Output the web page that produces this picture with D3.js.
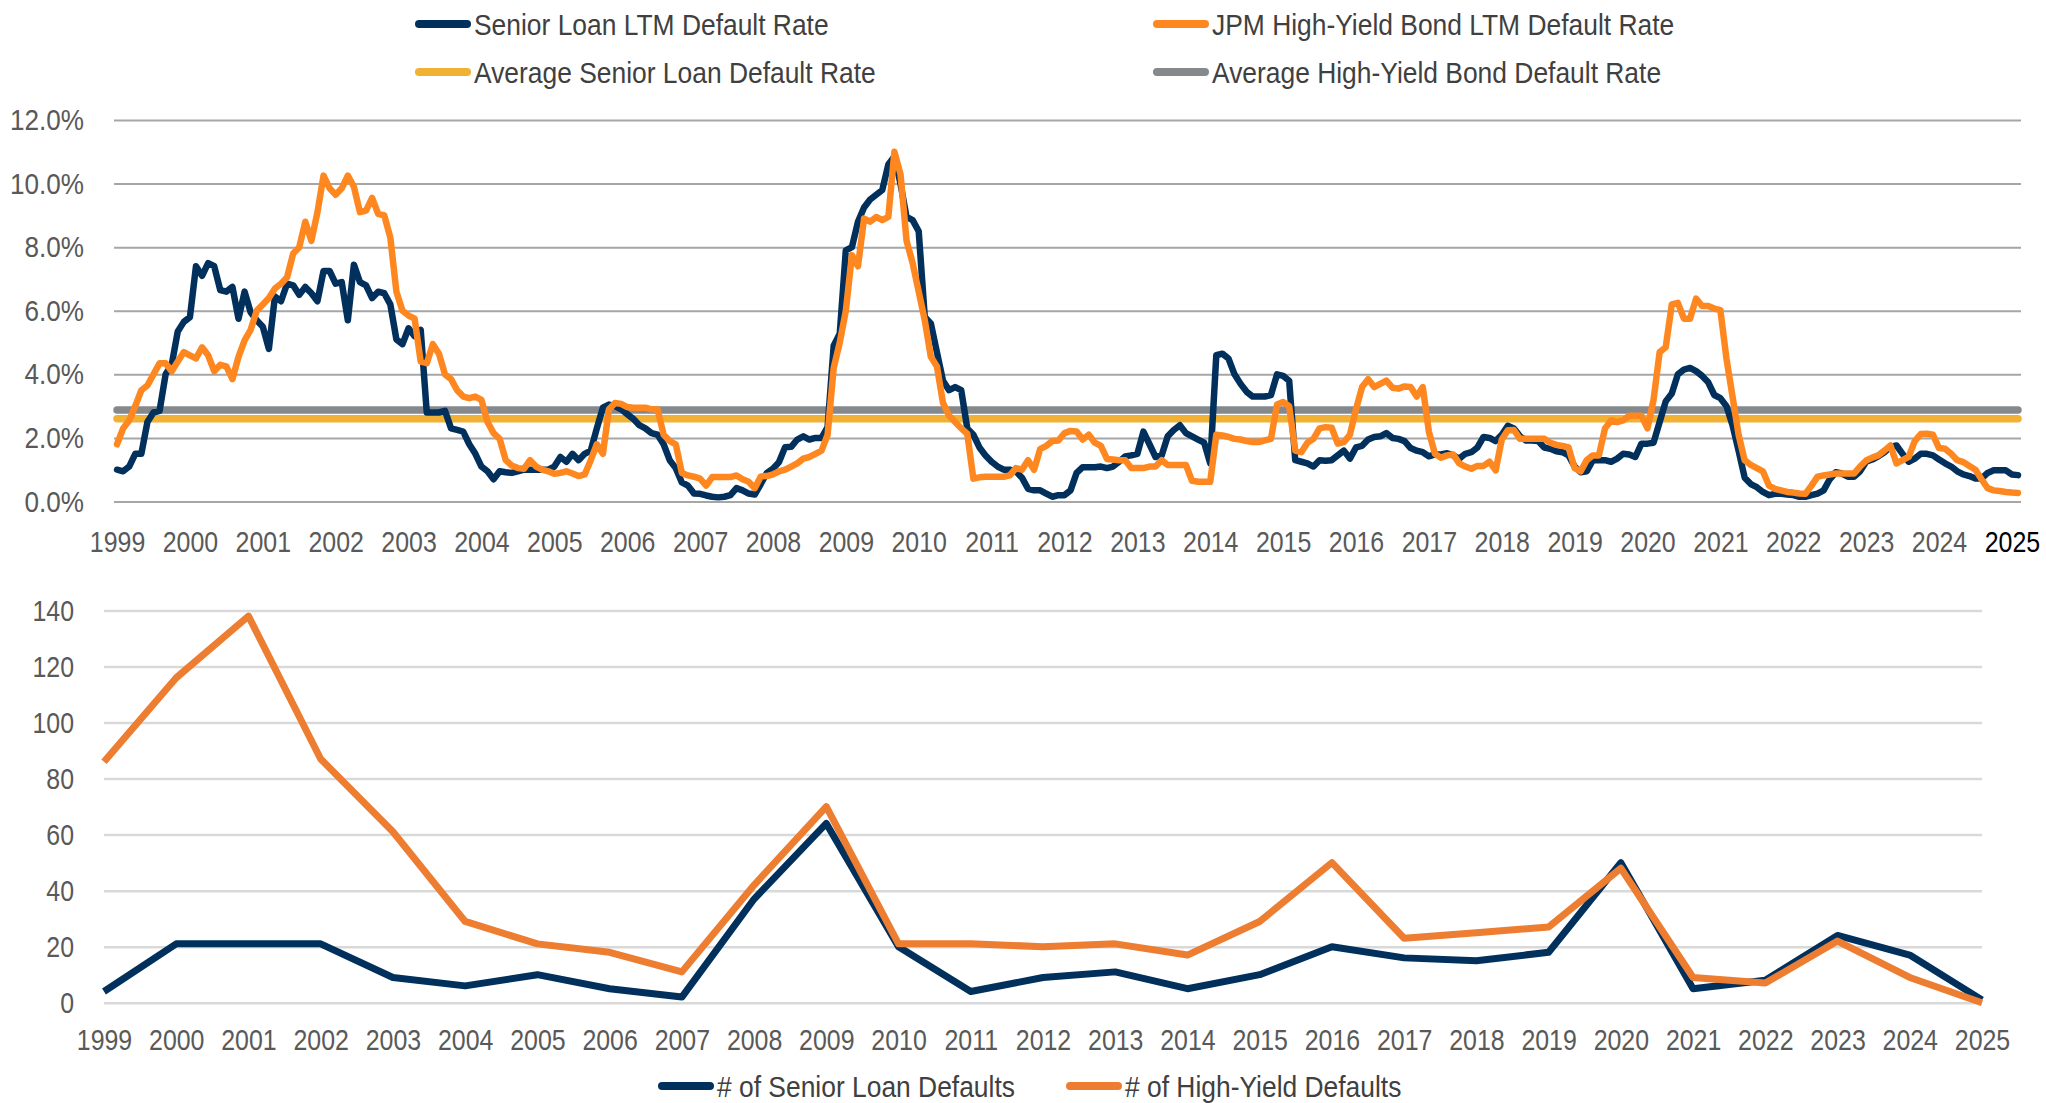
<!DOCTYPE html>
<html>
<head>
<meta charset="utf-8">
<script src="https://cdn.jsdelivr.net/npm/d3@7"></script>
<style>
  html, body { margin: 0; padding: 0; background: #ffffff; }
  svg { display: block; }
  text { font-family: "Liberation Sans", Arial, sans-serif; }
</style>
</head>
<body>
<svg id="chart" width="2046" height="1103"></svg>
<script>
// ---- Data -------------------------------------------------------------
// Monthly trailing-twelve-month default rates (%), Jan 1999 – Feb 2025
const seniorLoanRate = [
  1.0, 0.95, 1.1, 1.5, 1.5, 2.5, 2.8, 2.85, 4.0, 4.3, 5.35, 5.65,          // 1999
  5.8, 7.4, 7.1, 7.5, 7.4, 6.65, 6.6, 6.75, 5.75, 6.6, 5.95, 5.7,         // 2000
  5.5, 4.8, 6.45, 6.3, 6.85, 6.8, 6.5, 6.75, 6.55, 6.3, 7.25, 7.25,       // 2001
  6.85, 6.9, 5.7, 7.45, 6.9, 6.8, 6.4, 6.6, 6.55, 6.2, 5.1, 4.95,         // 2002
  5.45, 5.2, 5.4, 2.8, 2.8, 2.8, 2.85, 2.3, 2.25, 2.2, 1.8, 1.5,          // 2003
  1.1, 0.95, 0.7, 0.95, 0.92, 0.9, 0.95, 1.0, 1.0, 1.0, 1.0, 1.0,         // 2004
  1.1, 1.4, 1.25, 1.5, 1.3, 1.5, 1.6, 2.3, 2.95, 3.05, 3.0, 2.9,          // 2005
  2.75, 2.6, 2.4, 2.3, 2.15, 2.1, 1.8, 1.3, 1.05, 0.6, 0.5, 0.25,         // 2006
  0.24, 0.19, 0.15, 0.13, 0.15, 0.2, 0.42, 0.35, 0.25, 0.22, 0.55, 0.9,   // 2007
  1.03, 1.24, 1.71, 1.72, 1.95, 2.05, 1.95, 2.0, 2.0, 2.34, 4.9, 5.28,    // 2008
  7.9, 8.0, 8.8, 9.25, 9.5, 9.65, 9.8, 10.6, 10.85, 10.0, 8.95, 8.85,     // 2009
  8.5, 5.8, 5.6, 4.7, 3.8, 3.5, 3.6, 3.5, 2.3, 2.1, 1.7, 1.45,            // 2010
  1.25, 1.1, 1.0, 1.0, 0.95, 0.75, 0.4, 0.35, 0.35, 0.25, 0.15, 0.2,      // 2011
  0.2, 0.35, 0.9, 1.08, 1.08, 1.08, 1.1, 1.05, 1.1, 1.25, 1.42, 1.45,     // 2012
  1.5, 2.2, 1.8, 1.4, 1.45, 2.05, 2.25, 2.4, 2.15, 2.05, 1.95, 1.85,      // 2013
  1.2, 4.6, 4.65, 4.5, 4.0, 3.7, 3.45, 3.3, 3.3, 3.3, 3.35, 4.0,          // 2014
  3.95, 3.8, 1.3, 1.25, 1.2, 1.1, 1.3, 1.28, 1.3, 1.45, 1.6, 1.35,        // 2015
  1.7, 1.75, 1.95, 2.03, 2.05, 2.15, 2.0, 1.97, 1.9, 1.68, 1.6, 1.55,     // 2016
  1.42, 1.48, 1.48, 1.52, 1.45, 1.35, 1.5, 1.55, 1.7, 2.03, 2.0, 1.9,     // 2017
  2.1, 2.38, 2.3, 2.05, 1.92, 1.92, 1.9, 1.7, 1.66, 1.58, 1.55, 1.45,     // 2018
  1.1, 0.92, 0.95, 1.3, 1.3, 1.3, 1.25, 1.35, 1.5, 1.48, 1.4, 1.82,       // 2019
  1.82, 1.85, 2.5, 3.15, 3.4, 4.0, 4.15, 4.2, 4.1, 3.95, 3.75, 3.35,      // 2020
  3.25, 3.0, 2.4, 1.6, 0.75, 0.55, 0.45, 0.3, 0.2, 0.24, 0.24, 0.22,      // 2021
  0.2, 0.15, 0.15, 0.2, 0.25, 0.35, 0.7, 0.92, 0.88, 0.78, 0.78, 0.95,    // 2022
  1.25, 1.32, 1.42, 1.55, 1.72, 1.76, 1.5, 1.25, 1.35, 1.5, 1.5, 1.45,    // 2023
  1.32, 1.2, 1.1, 0.95, 0.85, 0.8, 0.72, 0.72, 0.9, 0.98, 0.98, 0.98,     // 2024
  0.85, 0.83                                                              // 2025
];

const highYieldRate = [
  1.8, 2.3, 2.55, 3.0, 3.5, 3.65, 4.0, 4.35, 4.35, 4.1, 4.4, 4.7,         // 1999
  4.6, 4.5, 4.85, 4.6, 4.1, 4.3, 4.25, 3.85, 4.55, 5.07, 5.4, 6.0,        // 2000
  6.2, 6.4, 6.7, 6.85, 7.05, 7.8, 8.0, 8.8, 8.2, 9.1, 10.25, 9.85,        // 2001
  9.65, 9.85, 10.25, 9.9, 9.1, 9.15, 9.55, 9.05, 9.0, 8.3, 6.6, 6.0,      // 2002
  5.85, 5.75, 4.4, 4.35, 4.95, 4.65, 4.0, 3.85, 3.5, 3.3, 3.25, 3.3,      // 2003
  3.2, 2.5, 2.15, 1.97, 1.3, 1.13, 1.05, 1.03, 1.3, 1.1, 1.0, 0.95,       // 2004
  0.87, 0.9, 0.95, 0.88, 0.8, 0.85, 1.3, 1.8, 1.5, 2.9, 3.1, 3.07,        // 2005
  2.97, 2.95, 2.95, 2.95, 2.9, 2.9, 2.1, 1.9, 1.8, 0.9, 0.82, 0.78,       // 2006
  0.72, 0.5, 0.77, 0.77, 0.77, 0.77, 0.82, 0.7, 0.62, 0.42, 0.79, 0.8,    // 2007
  0.85, 0.95, 1.0, 1.1, 1.2, 1.35, 1.4, 1.5, 1.6, 2.1, 4.2, 5.0,          // 2008
  6.0, 7.75, 7.4, 8.9, 8.8, 8.95, 8.85, 8.95, 11.0, 10.3, 8.2, 7.5,       // 2009
  6.6, 5.7, 4.55, 4.25, 3.1, 2.7, 2.5, 2.3, 2.13, 0.72, 0.76, 0.78,       // 2010
  0.78, 0.78, 0.78, 0.82, 1.05, 1.0, 1.3, 1.0, 1.65, 1.75, 1.9, 1.92,     // 2011
  2.15, 2.22, 2.2, 1.95, 2.1, 1.85, 1.75, 1.34, 1.32, 1.3, 1.3, 1.05,     // 2012
  1.05, 1.05, 1.1, 1.1, 1.3, 1.15, 1.15, 1.15, 1.15, 0.65, 0.62, 0.62,    // 2013
  0.62, 2.1, 2.08, 2.03, 1.97, 1.95, 1.9, 1.87, 1.87, 1.92, 1.97, 3.05,   // 2014
  3.13, 3.0, 1.6, 1.55, 1.85, 1.97, 2.3, 2.34, 2.32, 1.82, 1.87, 2.1,     // 2015
  2.9, 3.6, 3.85, 3.6, 3.7, 3.8, 3.58, 3.55, 3.62, 3.6, 3.3, 3.6,         // 2016
  2.2, 1.5, 1.38, 1.45, 1.48, 1.2, 1.1, 1.03, 1.12, 1.12, 1.25, 0.98,     // 2017
  1.95, 2.24, 2.25, 1.97, 1.97, 1.97, 1.97, 1.97, 1.85, 1.78, 1.75, 1.7,  // 2018
  1.05, 0.95, 1.3, 1.45, 1.45, 2.3, 2.55, 2.5, 2.55, 2.7, 2.7, 2.7,       // 2019
  2.3, 3.2, 4.7, 4.85, 6.2, 6.25, 5.75, 5.75, 6.38, 6.15, 6.15, 6.07,     // 2020
  6.02, 4.5, 3.3, 2.1, 1.3, 1.15, 1.05, 0.95, 0.5, 0.4, 0.35, 0.3,        // 2021
  0.28, 0.25, 0.24, 0.5, 0.78, 0.82, 0.85, 0.88, 0.88, 0.88, 0.88, 1.1,   // 2022
  1.29, 1.38, 1.45, 1.6, 1.76, 1.2, 1.3, 1.4, 1.9, 2.12, 2.13, 2.1,       // 2023
  1.68, 1.66, 1.5, 1.3, 1.24, 1.12, 1.0, 0.7, 0.42, 0.35, 0.33, 0.3,      // 2024
  0.28, 0.27                                                              // 2025
];

const avgSeniorLoanRate = 2.60;
const avgHighYieldRate = 2.88;
const rateTicks = [0, 2, 4, 6, 8, 10, 12];
const yearLabels = ["1999","2000","2001","2002","2003","2004","2005","2006","2007",
  "2008","2009","2010","2011","2012","2013","2014","2015","2016","2017","2018",
  "2019","2020","2021","2022","2023","2024","2025"];

// Annual number of defaults
const defaultYears = yearLabels;
const seniorLoanDefaults = [4, 21, 21, 21, 9, 6, 10, 5, 2, 37, 64, 20, 4, 9, 11, 5, 10, 20, 16, 15, 18, 50, 5, 8, 24, 17, 1];
const highYieldDefaults  = [86, 116, 138, 87, 61, 29, 21, 18, 11, 42, 70, 21, 21, 20, 21, 17, 29, 50, 23, 25, 27, 48, 9, 7, 22, 9, 0];
const countTicks = [0, 20, 40, 60, 80, 100, 120, 140];

// ---- Styling ------------------------------------------------------------
const NAVY = "#00305b";
const ORANGE_TOP = "#ff8720";
const ORANGE_BOTTOM = "#ed7d31";
const GOLD = "#f0b134";
const GREY = "#85898c";
const AXIS_TEXT = "#595959";
const LEGEND_TEXT = "#404040";

const svg = d3.select("#chart");

// Squeeze text horizontally to get a narrow (condensed) face look
function condense(selection, factor) {
  selection.each(function () {
    const w = this.getComputedTextLength();
    this.setAttribute("textLength", (w * factor).toFixed(2));
    this.setAttribute("lengthAdjust", "spacingAndGlyphs");
  });
}

// ---- Top panel: LTM default rates ---------------------------------------
const rateBox = { left: 114, right: 2021, top: 120, bottom: 501.5 };
const monthIdx = d3.range(seniorLoanRate.length);

const xRate = d3.scalePoint().domain(monthIdx).range([rateBox.left, rateBox.right]).padding(0.5);
const yRate = d3.scaleLinear().domain([0, 12]).range([rateBox.bottom, rateBox.top]);

const gRate = svg.append("g");

// gridlines + y labels
const yAxisRate = gRate.append("g")
  .attr("transform", `translate(${rateBox.left},0)`)
  .call(d3.axisLeft(yRate).tickValues(rateTicks)
    .tickSize(-(rateBox.right - rateBox.left)).tickPadding(30)
    .tickFormat(d => d.toFixed(1) + "%"));
yAxisRate.select(".domain").remove();
yAxisRate.selectAll(".tick line").attr("stroke", "#a6a6a6").attr("stroke-width", 2);
yAxisRate.selectAll(".tick text").attr("fill", AXIS_TEXT).attr("font-size", 30)
  .call(condense, 0.87);

// x labels: one per January
const xAxisRate = gRate.append("g")
  .attr("transform", `translate(0,${rateBox.bottom})`)
  .call(d3.axisBottom(xRate)
    .tickValues(monthIdx.filter(i => i % 12 === 0))
    .tickSize(0).tickPadding(29)
    .tickFormat(i => yearLabels[i / 12]));
xAxisRate.select(".domain").remove();
xAxisRate.selectAll(".tick text").attr("fill", AXIS_TEXT).attr("font-size", 30)
  .call(condense, 0.83);
xAxisRate.selectAll(".tick text").filter(i => yearLabels[i / 12] === "2025")
  .attr("fill", "#000000");

// average reference lines
const avgLines = [
  { value: avgHighYieldRate, color: GREY },
  { value: avgSeniorLoanRate, color: GOLD }
];
gRate.selectAll(".avg").data(avgLines).join("line")
  .attr("class", "avg")
  .attr("x1", xRate(0)).attr("x2", xRate(monthIdx[monthIdx.length - 1]))
  .attr("y1", d => yRate(d.value)).attr("y2", d => yRate(d.value))
  .attr("stroke", d => d.color).attr("stroke-width", 7.5).attr("stroke-linecap", "round");

const lineRate = d3.line().x((d, i) => xRate(i)).y(d => yRate(d));
[[seniorLoanRate, NAVY], [highYieldRate, ORANGE_TOP]].forEach(([series, color]) => {
  gRate.append("path").datum(series)
    .attr("d", lineRate)
    .attr("fill", "none").attr("stroke", color)
    .attr("stroke-width", 6.5).attr("stroke-linejoin", "round").attr("stroke-linecap", "round");
});

// legend helper
function drawLegend(items) {
  const g = svg.append("g").selectAll("g").data(items).join("g")
    .attr("transform", d => `translate(${d.x},${d.y})`);
  g.append("line").attr("x1", 4).attr("x2", 52).attr("y1", 0).attr("y2", 0)
    .attr("stroke", d => d.color).attr("stroke-width", 8).attr("stroke-linecap", "round");
  g.append("text").attr("x", 59).attr("y", 0).attr("dy", "0.35em")
    .attr("font-size", 30).attr("fill", LEGEND_TEXT).text(d => d.label)
    .call(condense, 0.88);
}

drawLegend([
  { label: "Senior Loan LTM Default Rate", color: NAVY, x: 415, y: 24 },
  { label: "JPM High-Yield Bond LTM Default Rate", color: ORANGE_TOP, x: 1153, y: 24 },
  { label: "Average Senior Loan Default Rate", color: GOLD, x: 415, y: 72 },
  { label: "Average High-Yield Bond Default Rate", color: GREY, x: 1153, y: 72 }
]);

// ---- Bottom panel: number of defaults -----------------------------------
const countBox = { left: 104, right: 1982, top: 610.5, bottom: 1002.7 };
const xCount = d3.scalePoint().domain(defaultYears).range([countBox.left, countBox.right]);
const yCount = d3.scaleLinear().domain([0, 140]).range([countBox.bottom, countBox.top]);

const gCount = svg.append("g");
const yAxisCount = gCount.append("g")
  .attr("transform", `translate(${countBox.left},0)`)
  .call(d3.axisLeft(yCount).tickValues(countTicks)
    .tickSize(-(countBox.right - countBox.left)).tickPadding(30));
yAxisCount.select(".domain").remove();
yAxisCount.selectAll(".tick line").attr("stroke", "#d9d9d9").attr("stroke-width", 2.5);
yAxisCount.selectAll(".tick text").attr("fill", AXIS_TEXT).attr("font-size", 30)
  .call(condense, 0.83);

const xAxisCount = gCount.append("g")
  .attr("transform", `translate(0,${countBox.bottom})`)
  .call(d3.axisBottom(xCount).tickSize(0).tickPadding(26));
xAxisCount.select(".domain").remove();
xAxisCount.selectAll(".tick text").attr("fill", AXIS_TEXT).attr("font-size", 30)
  .call(condense, 0.83);

const lineCount = d3.line().x((d, i) => xCount(defaultYears[i])).y(d => yCount(d));
[[seniorLoanDefaults, NAVY], [highYieldDefaults, ORANGE_BOTTOM]].forEach(([series, color]) => {
  gCount.append("path").datum(series)
    .attr("d", lineCount)
    .attr("fill", "none").attr("stroke", color)
    .attr("stroke-width", 7).attr("stroke-linejoin", "round").attr("stroke-linecap", "butt");
});

drawLegend([
  { label: "# of Senior Loan Defaults", color: NAVY, x: 658, y: 1086 },
  { label: "# of High-Yield Defaults", color: ORANGE_BOTTOM, x: 1066, y: 1086 }
]);
</script>
</body>
</html>
